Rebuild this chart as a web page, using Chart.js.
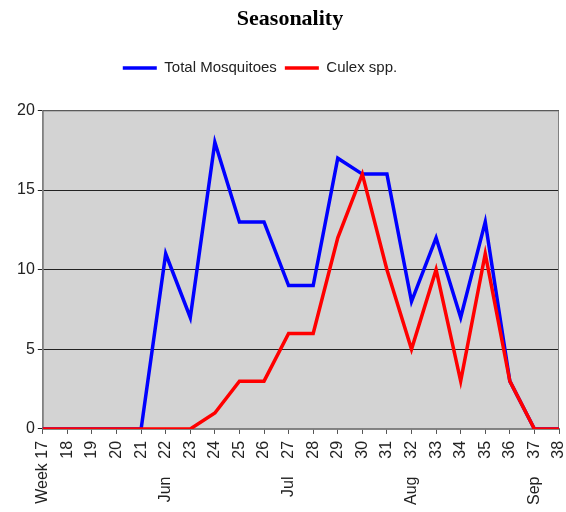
<!DOCTYPE html>
<html>
<head>
<meta charset="utf-8">
<script src="https://cdn.jsdelivr.net/npm/chart.js@4"></script>
<style>
  html, body { margin: 0; padding: 0; background: #fff; }
  #wrap { width: 566px; height: 512px; }
</style>
</head>
<body>
<div id="wrap"><canvas id="seasonChart" width="566" height="512"></canvas></div>
<script>
// weekly counts, week 17 .. 38
const weeks = [17, 18, 19, 20, 21, 22, 23, 24, 25, 26, 27, 28, 29, 30, 31, 32, 33, 34, 35, 36, 37, 38];
const months = ['', '', '', '', '', 'Jun', '', '', '', '', 'Jul', '', '', '', '', 'Aug', '', '', '', '', 'Sep', ''];
const totalMosquitoes = [0, 0, 0, 0, 0, 11, 7, 18, 13, 13, 9, 9, 17, 16, 16, 8, 12, 7, 13, 3, 0, 0];
const culex = [0, 0, 0, 0, 0, 0, 0, 1, 3, 3, 6, 6, 12, 16, 10, 5, 10, 3, 11, 3, 0, 0];
const yTicks = [0, 5, 10, 15, 20];

const labels = weeks.map(function(w, i) {
    if (i === 0) return 'Week ' + w;
    if (months[i]) return months[i] + '    ' + w;
    return String(w);
});

const FONT = "'Liberation Sans', Arial, sans-serif";

// grey plot background + frame
const plotBg = {
    id: 'plotBg',
    beforeDraw(chart) {
        const a = chart.chartArea, ctx = chart.ctx;
        ctx.save();
        ctx.fillStyle = '#d3d3d3';
        ctx.fillRect(a.left, a.top, a.right - a.left, a.bottom - a.top);
        ctx.restore();
    },
    beforeDatasetsDraw(chart) {
        const a = chart.chartArea, ctx = chart.ctx;
        ctx.save();
        ctx.strokeStyle = '#808080';
        ctx.lineWidth = 1;
        ctx.strokeRect(a.left + 0.5, a.top + 0.5, a.right - a.left - 1, a.bottom - a.top);
        ctx.restore();
    }
};

// extra gap under the legend, and legend sits a bit left of centre
const legendTweak = {
    id: 'legendTweak',
    beforeInit(chart) {
        const legend = chart.legend;
        const fit = legend.fit;
        legend.fit = function() {
            fit.call(this);
            this.height += 25;
        };
    },
    afterLayout(chart) {
        chart.legend.left -= 30;
        chart.legend.right -= 30;
    }
};

new Chart(document.getElementById('seasonChart'), {
    type: 'line',
    data: {
        labels: labels,
        datasets: [{
            label: 'Total Mosquitoes',
            data: totalMosquitoes,
            borderColor: '#0000ff',
            backgroundColor: '#0000ff',
            borderWidth: 3.5,
            pointRadius: 0,
            tension: 0,
            order: 2
        }, {
            label: 'Culex spp.',
            data: culex,
            borderColor: '#ff0000',
            backgroundColor: '#ff0000',
            borderWidth: 3.5,
            pointRadius: 0,
            tension: 0,
            order: 1
        }]
    },
    options: {
        responsive: false,
        animation: false,
        layout: { padding: { left: 14, right: 0, top: 0, bottom: 0 } },
        plugins: {
            title: {
                display: true,
                text: 'Seasonality',
                color: '#000',
                font: { family: "'Liberation Serif', 'Times New Roman', serif", size: 22, weight: 'bold' },
                padding: { top: 6, bottom: 20 }
            },
            legend: {
                position: 'top',
                labels: {
                    usePointStyle: true,
                    pointStyle: 'line',
                    pointStyleWidth: 34,
                    color: '#222',
                    font: { family: FONT, size: 15 },
                    padding: 8,
                    sort: function(a, b) { return a.datasetIndex - b.datasetIndex; }
                }
            },
            tooltip: { enabled: false }
        },
        scales: {
            x: {
                offset: false,
                afterFit: function(scale) {
                    // last rotated label only needs a few px at the right edge
                    scale.paddingRight = 7;
                },
                grid: { drawOnChartArea: false, drawTicks: true, tickLength: 5, color: '#555' },
                border: { color: '#808080' },
                ticks: {
                    autoSkip: false,
                    minRotation: 90,
                    maxRotation: 90,
                    padding: 7,
                    color: '#222',
                    font: { family: FONT, size: 16 }
                }
            },
            y: {
                min: 0,
                max: 20,
                afterBuildTicks: function(axis) {
                    axis.ticks = yTicks.map(function(v) { return { value: v }; });
                },
                grid: { color: '#222', lineWidth: 1, tickLength: 5 },
                border: { color: '#808080' },
                ticks: {
                    padding: 3,
                    color: '#222',
                    font: { family: FONT, size: 16 }
                }
            }
        }
    },
    plugins: [plotBg, legendTweak]
});
</script>
</body>
</html>
